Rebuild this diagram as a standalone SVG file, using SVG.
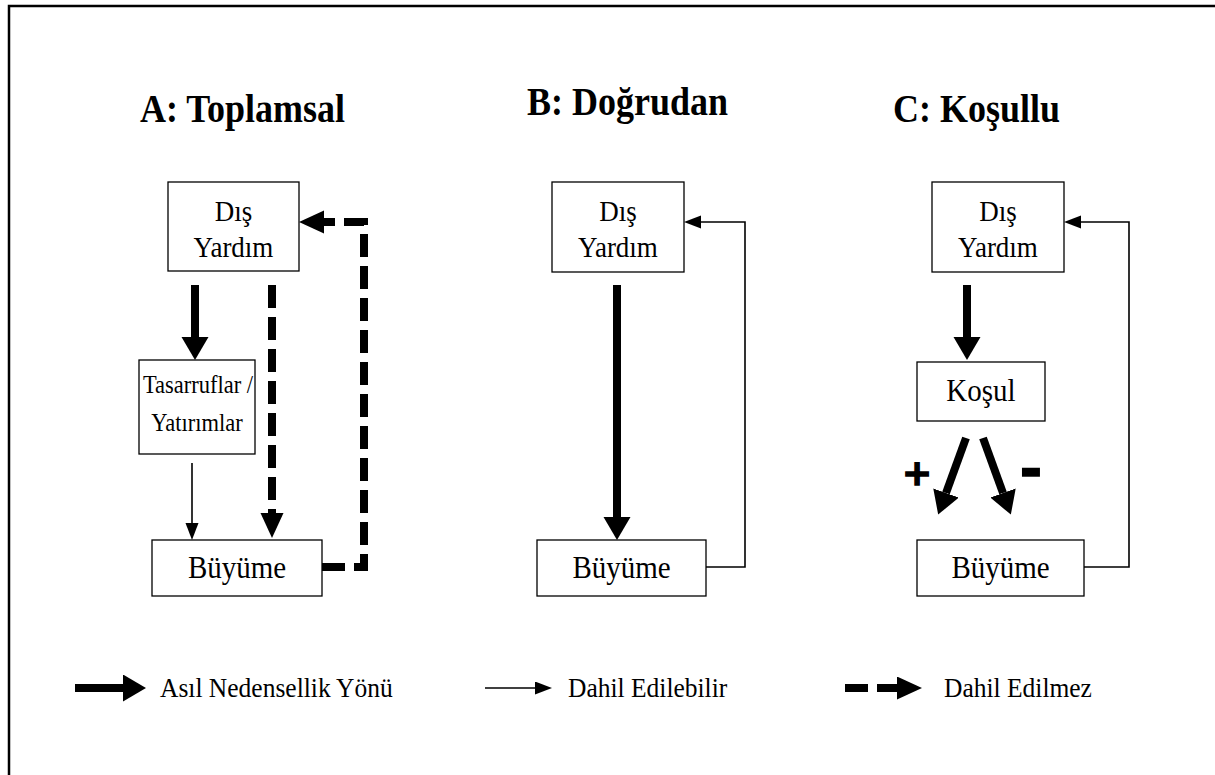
<svg xmlns="http://www.w3.org/2000/svg" width="1215" height="775" viewBox="0 0 1215 775">
<defs>
<style>
.t{font-family:"Liberation Serif","Times New Roman",serif;font-size:27px;fill:#000;text-anchor:middle}
.tb{font-size:29px}
.ts{font-size:22.5px}
.lg{font-family:"Liberation Serif","Times New Roman",serif;font-size:25.5px;fill:#000}
.h{font-family:"Liberation Serif","Times New Roman",serif;font-size:36px;font-weight:bold;fill:#000}
.box{fill:#fff;stroke:#000;stroke-width:1.3}
.thick{fill:none;stroke:#000;stroke-width:8}
.thin{fill:none;stroke:#000;stroke-width:1.6}
.dash{fill:none;stroke:#000;stroke-width:8;stroke-dasharray:23 9}
.sg{font-family:"DejaVu Sans",sans-serif;font-weight:bold;fill:#000;stroke:#000;stroke-width:1.4;text-anchor:middle}
</style>
<marker id="hk" markerUnits="userSpaceOnUse" markerWidth="24" markerHeight="28" refX="0" refY="13.5" orient="auto" viewBox="0 0 24 28">
<path d="M0,0 L23,13.5 L0,27 z" fill="#000"/>
</marker>
<marker id="hd" markerUnits="userSpaceOnUse" markerWidth="26" markerHeight="24" refX="0" refY="11.5" orient="auto" viewBox="0 0 26 24">
<path d="M0,0 L25,11.5 L0,23 z" fill="#000"/>
</marker>
<marker id="hn" markerUnits="userSpaceOnUse" markerWidth="18" markerHeight="14" refX="0" refY="6.5" orient="auto" viewBox="0 0 18 14">
<path d="M0,0 L17,6.5 L0,13 z" fill="#000"/>
</marker>
</defs>
<rect x="9" y="6" width="1230" height="800" fill="#fff" stroke="#000" stroke-width="2.5"/>

<g id="titles">
<text class="h" x="140" y="122" transform="matrix(1 0 0 1.1 0 -12.2)">A: Toplamsal</text>
<text class="h" x="527" y="115" transform="matrix(1 0 0 1.1 0 -11.5)">B: Doğrudan</text>
<text class="h" x="893" y="122" transform="matrix(1 0 0 1.1 0 -12.2)">C: Koşullu</text>
</g>

<g id="a-dis"><rect class="box" x="168" y="182" width="131" height="89"/><text class="t" x="233.5" y="221" transform="matrix(1 0 0 1.1 0 -22.1)">Dış</text><text class="t" x="233.5" y="257" transform="matrix(1 0 0 1.1 0 -25.7)">Yardım</text></g>
<g id="a-tasarruf"><rect class="box" x="139" y="360" width="116" height="94"/><text class="t ts" x="198" y="393" transform="matrix(1 0 0 1.15 0 -58.95)">Tasarruflar /</text><text class="t ts" x="197" y="431" transform="matrix(1 0 0 1.15 0 -64.65)">Yatırımlar</text></g>
<g id="a-buyume"><rect class="box" x="152" y="540" width="170" height="56"/><text class="t tb" x="237" y="578" transform="matrix(1 0 0 1.1 0 -57.8)">Büyüme</text></g>

<g id="b-dis"><rect class="box" x="552" y="182" width="132" height="90"/><text class="t" x="618" y="221" transform="matrix(1 0 0 1.1 0 -22.1)">Dış</text><text class="t" x="618" y="257" transform="matrix(1 0 0 1.1 0 -25.7)">Yardım</text></g>
<g id="b-buyume"><rect class="box" x="537" y="540" width="169" height="56"/><text class="t tb" x="621.5" y="578" transform="matrix(1 0 0 1.1 0 -57.8)">Büyüme</text></g>

<g id="c-dis"><rect class="box" x="932" y="182" width="132" height="90"/><text class="t" x="998" y="221" transform="matrix(1 0 0 1.1 0 -22.1)">Dış</text><text class="t" x="998" y="257" transform="matrix(1 0 0 1.1 0 -25.7)">Yardım</text></g>
<g id="c-kosul"><rect class="box" x="917" y="362" width="128" height="59"/><text class="t tb" x="981" y="401" transform="matrix(1 0 0 1.1 0 -40.1)">Koşul</text></g>
<g id="c-buyume"><rect class="box" x="917" y="540" width="167" height="56"/><text class="t tb" x="1000.5" y="578" transform="matrix(1 0 0 1.1 0 -57.8)">Büyüme</text></g>

<g id="connectors">
<path class="thick" d="M195,285 V337" marker-end="url(#hk)"/>
<path class="thin" d="M192,463 V523" marker-end="url(#hn)"/>
<path class="dash" d="M272,285 V513" marker-end="url(#hd)"/>
<path class="dash" d="M322,567 H364 V222 H324" marker-end="url(#hd)"/>

<path class="thick" d="M617,285 V517" marker-end="url(#hk)"/>
<path class="thin" d="M706,567 H745 V222 H701" marker-end="url(#hn)"/>

<path class="thick" d="M967,285 V337" marker-end="url(#hk)"/>
<path class="thick" d="M966,438 L946,493" marker-end="url(#hk)"/>
<path class="thick" d="M983,438 L1003,493" marker-end="url(#hk)"/>
<path class="thin" d="M1084,567 H1129 V222 H1081" marker-end="url(#hn)"/>
</g>

<g id="signs">
<text class="sg" x="917" y="485" font-size="36">+</text>
<text class="sg" x="1031" y="488" font-size="54">-</text>
</g>

<g id="legend">
<path class="thick" d="M75,688 H123" marker-end="url(#hk)"/>
<text class="lg" x="160" y="697" transform="matrix(1 0 0 1.1 0 -69.7)">Asıl Nedensellik Yönü</text>
<path class="thin" d="M485,688 H535" marker-end="url(#hn)"/>
<text class="lg" x="568" y="697" transform="matrix(1 0 0 1.1 0 -69.7)">Dahil Edilebilir</text>
<path class="dash" d="M845,688 H897" marker-end="url(#hd)"/>
<text class="lg" x="944" y="697" transform="matrix(1 0 0 1.1 0 -69.7)">Dahil Edilmez</text>
</g>
</svg>
